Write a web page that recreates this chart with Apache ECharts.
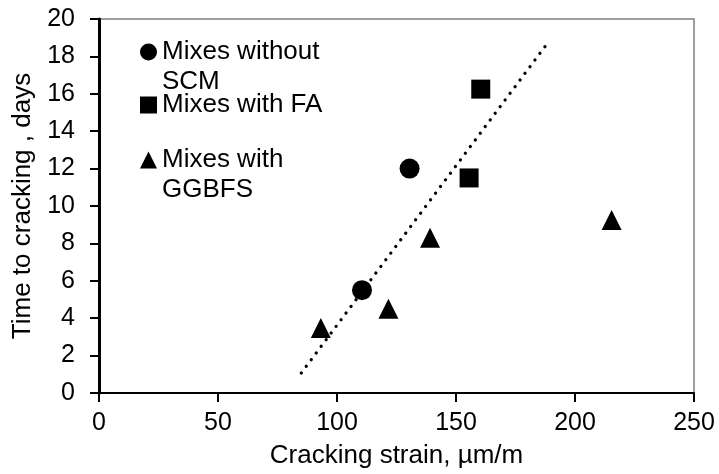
<!DOCTYPE html>
<html>
<head>
<meta charset="utf-8">
<title>Time to cracking vs cracking strain</title>
<script src="https://cdn.jsdelivr.net/npm/echarts@6/dist/echarts.min.js"></script>
<style>
  html, body { margin: 0; padding: 0; background: #fff; }
  #chart { width: 719px; height: 474px; }
</style>
</head>
<body>
<div id="chart"></div>
<script>
// data: [cracking strain µm/m, time to cracking days]
const withoutScm = [[110.5, 5.5], [130.5, 12.0]];
const withFa = [[155.5, 11.5], [160.4, 16.25]];
const withGgbfs = [[93.2, 3.48], [121.6, 4.5], [139.1, 8.3], [215.4, 9.25]];
// dotted trend line end points
const trendLine = [[85, 1.07], [189, 18.8]];

const seriesNames = ['Mixes without SCM', 'Mixes with FA', 'Mixes with GGBFS'];
// legend text as it wraps in the picture (blank first line keeps the icon on line one)
const legendText = {
  'Mixes without SCM': '\nMixes without\nSCM',
  'Mixes with FA': 'Mixes with FA',
  'Mixes with GGBFS': '\nMixes with\nGGBFS',
};

const font = 'Liberation Sans, Arial, sans-serif';
const chart = echarts.init(document.getElementById('chart'));

function legendAt(name, icon, top) {
  return {
    data: [{ name, icon }],
    left: 140,
    top,
    padding: 0,
    itemWidth: 17,
    itemHeight: 17,
    itemGap: 5,
    selectedMode: false,
    formatter: (n) => legendText[n],
    textStyle: { fontFamily: font, fontSize: 26, lineHeight: 30, color: '#000' },
  };
}

chart.setOption({
  animation: false,
  grid: {
    left: 99,
    right: 25,
    top: 19,
    bottom: 80,
    show: true,
    borderColor: '#7f7f7f',
    borderWidth: 1.5,
  },
  legend: [
    legendAt(seriesNames[0], 'circle', 7),
    legendAt(seriesNames[1], 'rect', 90),
    legendAt(seriesNames[2], 'triangle', 115),
  ],
  xAxis: {
    type: 'value',
    min: 0,
    max: 250,
    interval: 50,
    name: 'Cracking strain, µm/m',
    nameLocation: 'middle',
    nameGap: 50,
    nameTextStyle: { fontFamily: font, fontSize: 26, color: '#000' },
    axisLine: { lineStyle: { color: '#000', width: 2 } },
    axisTick: { length: 9, lineStyle: { color: '#000', width: 2 } },
    axisLabel: { fontFamily: font, fontSize: 25, color: '#000', margin: 18 },
    splitLine: { show: false },
  },
  yAxis: {
    type: 'value',
    min: 0,
    max: 20,
    interval: 2,
    name: 'Time to cracking , days',
    nameLocation: 'middle',
    nameGap: 62,
    nameTextStyle: { fontFamily: font, fontSize: 26, color: '#000' },
    axisLine: { lineStyle: { color: '#000', width: 3 } },
    axisTick: { length: 9, lineStyle: { color: '#000', width: 2 } },
    axisLabel: { fontFamily: font, fontSize: 25, color: '#000', margin: 24 },
    splitLine: { show: false },
  },
  series: [
    {
      name: 'trend',
      type: 'line',
      data: trendLine,
      showSymbol: false,
      silent: true,
      lineStyle: { color: '#000', width: 3.3, type: [0.01, 8.3], cap: 'round' },
    },
    {
      name: seriesNames[0],
      type: 'scatter',
      data: withoutScm,
      symbol: 'circle',
      symbolSize: 20,
      itemStyle: { color: '#000', opacity: 1 },
    },
    {
      name: seriesNames[1],
      type: 'scatter',
      data: withFa,
      symbol: 'rect',
      symbolSize: 19,
      itemStyle: { color: '#000', opacity: 1 },
    },
    {
      name: seriesNames[2],
      type: 'scatter',
      data: withGgbfs,
      symbol: 'triangle',
      symbolSize: [20, 20],
      itemStyle: { color: '#000', opacity: 1 },
    },
  ],
});

window.addEventListener('resize', () => { chart.resize(); });
</script>
</body>
</html>
